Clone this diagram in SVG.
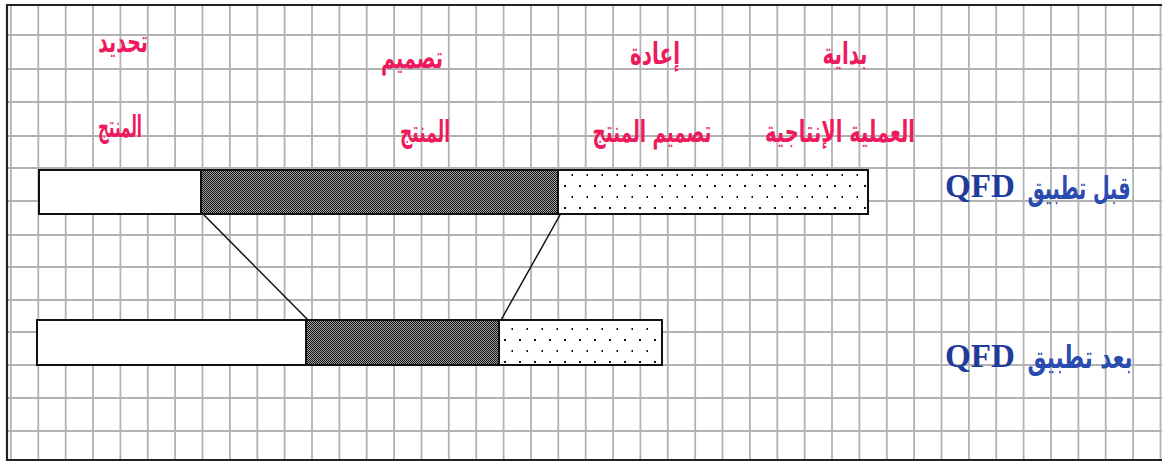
<svg xmlns="http://www.w3.org/2000/svg" width="1162" height="462" viewBox="0 0 1162 462">
<style>
.grid line{stroke:#b2b2b2;stroke-width:1.8}
.bar{stroke:#111;stroke-width:2}
.lbl{font-family:"DejaVu Sans",sans-serif;font-weight:bold;fill:#ee1a5e;text-anchor:middle;font-size:20px}
.qfd{font-family:"Liberation Serif",serif;font-weight:bold;fill:#1f3c9c;font-size:33px}
.ar{font-family:"DejaVu Sans",sans-serif;font-weight:bold;fill:#2a4bb0;text-anchor:middle;font-size:22px}
.conn line{stroke:#111;stroke-width:1.5}
</style>
<defs>
<pattern id="dark" width="2" height="2" patternUnits="userSpaceOnUse">
<rect width="2" height="2" fill="#a0a0a0"/>
<rect width="1" height="1" fill="#111"/>
<rect x="1" y="1" width="1" height="1" fill="#111"/>
</pattern>
<pattern id="dots" width="15" height="22" patternUnits="userSpaceOnUse" x="3" y="-1">
<rect width="15" height="22" fill="#fff"/>
<rect x="6" y="10" width="2" height="2" fill="#111"/>
<rect x="13.5" y="21" width="2" height="2" fill="#111"/>
<rect x="13.5" y="-1" width="2" height="2" fill="#111"/>
</pattern>
</defs>
<rect width="1162" height="462" fill="#fff"/>
<g class="grid">
<line x1="10.9" y1="5" x2="10.9" y2="460"/><line x1="38.3" y1="5" x2="38.3" y2="460"/><line x1="65.7" y1="5" x2="65.7" y2="460"/><line x1="93.0" y1="5" x2="93.0" y2="460"/><line x1="120.4" y1="5" x2="120.4" y2="460"/><line x1="147.8" y1="5" x2="147.8" y2="460"/><line x1="175.1" y1="5" x2="175.1" y2="460"/><line x1="202.5" y1="5" x2="202.5" y2="460"/><line x1="229.9" y1="5" x2="229.9" y2="460"/><line x1="257.3" y1="5" x2="257.3" y2="460"/><line x1="284.6" y1="5" x2="284.6" y2="460"/><line x1="312.0" y1="5" x2="312.0" y2="460"/><line x1="339.4" y1="5" x2="339.4" y2="460"/><line x1="366.7" y1="5" x2="366.7" y2="460"/><line x1="394.1" y1="5" x2="394.1" y2="460"/><line x1="421.5" y1="5" x2="421.5" y2="460"/><line x1="448.8" y1="5" x2="448.8" y2="460"/><line x1="476.2" y1="5" x2="476.2" y2="460"/><line x1="503.6" y1="5" x2="503.6" y2="460"/><line x1="531.0" y1="5" x2="531.0" y2="460"/><line x1="558.3" y1="5" x2="558.3" y2="460"/><line x1="585.7" y1="5" x2="585.7" y2="460"/><line x1="613.1" y1="5" x2="613.1" y2="460"/><line x1="640.4" y1="5" x2="640.4" y2="460"/><line x1="667.8" y1="5" x2="667.8" y2="460"/><line x1="695.2" y1="5" x2="695.2" y2="460"/><line x1="722.5" y1="5" x2="722.5" y2="460"/><line x1="749.9" y1="5" x2="749.9" y2="460"/><line x1="777.3" y1="5" x2="777.3" y2="460"/><line x1="804.7" y1="5" x2="804.7" y2="460"/><line x1="832.0" y1="5" x2="832.0" y2="460"/><line x1="859.4" y1="5" x2="859.4" y2="460"/><line x1="886.8" y1="5" x2="886.8" y2="460"/><line x1="914.1" y1="5" x2="914.1" y2="460"/><line x1="941.5" y1="5" x2="941.5" y2="460"/><line x1="968.9" y1="5" x2="968.9" y2="460"/><line x1="996.2" y1="5" x2="996.2" y2="460"/><line x1="1023.6" y1="5" x2="1023.6" y2="460"/><line x1="1051.0" y1="5" x2="1051.0" y2="460"/><line x1="1078.4" y1="5" x2="1078.4" y2="460"/><line x1="1105.7" y1="5" x2="1105.7" y2="460"/><line x1="1133.1" y1="5" x2="1133.1" y2="460"/><line x1="1160.5" y1="5" x2="1160.5" y2="460"/>
<line x1="7" y1="35" x2="1162" y2="35"/><line x1="7" y1="69" x2="1162" y2="69"/><line x1="7" y1="102" x2="1162" y2="102"/><line x1="7" y1="136" x2="1162" y2="136"/><line x1="7" y1="168" x2="1162" y2="168"/><line x1="7" y1="201" x2="1162" y2="201"/><line x1="7" y1="235" x2="1162" y2="235"/><line x1="7" y1="267" x2="1162" y2="267"/><line x1="7" y1="300" x2="1162" y2="300"/><line x1="7" y1="332" x2="1162" y2="332"/><line x1="7" y1="365" x2="1162" y2="365"/><line x1="7" y1="398" x2="1162" y2="398"/><line x1="7" y1="431" x2="1162" y2="431"/>
</g>
<path d="M1162 5 H7 V460 H1162" fill="none" stroke="#222" stroke-width="2.2"/>
<g id="labels">
<text class="lbl" transform="translate(123 52) scale(1 1.5)" textLength="50" lengthAdjust="spacingAndGlyphs">تحديد</text>
<text class="lbl" transform="translate(120 137) scale(1 1.5)" textLength="44" lengthAdjust="spacingAndGlyphs">المنتج</text>
<text class="lbl" transform="translate(412 68) scale(1 1.5)" textLength="62" lengthAdjust="spacingAndGlyphs">تصميم</text>
<text class="lbl" transform="translate(425 142) scale(1 1.5)" textLength="50" lengthAdjust="spacingAndGlyphs">المنتج</text>
<text class="lbl" transform="translate(655 64) scale(1 1.5)" textLength="50" lengthAdjust="spacingAndGlyphs">إعادة</text>
<text class="lbl" transform="translate(652 142) scale(1 1.5)" textLength="119" lengthAdjust="spacingAndGlyphs">تصميم المنتج</text>
<text class="lbl" transform="translate(845 64) scale(1 1.5)" textLength="45" lengthAdjust="spacingAndGlyphs">بداية</text>
<text class="lbl" transform="translate(840 142) scale(1 1.5)" textLength="150" lengthAdjust="spacingAndGlyphs">العملية الإنتاجية</text>
</g>
<g id="bar-before">
<rect class="bar" x="39" y="170" width="162" height="44" fill="#fff"/>
<rect class="bar" x="201" y="170" width="357" height="44" fill="url(#dark)"/>
<rect class="bar" x="558" y="170" width="310" height="44" fill="url(#dots)"/>
</g>
<g id="bar-after">
<rect class="bar" x="37" y="320" width="269" height="45" fill="#fff"/>
<rect class="bar" x="306" y="320" width="193" height="45" fill="url(#dark)" stroke-width="3"/>
<rect class="bar" x="499" y="320" width="163" height="45" fill="url(#dots)"/>
</g>
<g class="conn" id="connectors">
<line x1="204" y1="215" x2="308" y2="320"/>
<line x1="560" y1="215" x2="501" y2="320"/>
</g>
<g id="label-before">
<text class="qfd" x="945" y="197" textLength="70" lengthAdjust="spacingAndGlyphs">QFD</text>
<text class="ar" transform="translate(1079 199) scale(1 1.45)" textLength="103" lengthAdjust="spacingAndGlyphs">قبل تطبيق</text>
</g>
<g id="label-after">
<text class="qfd" x="945" y="367" textLength="70" lengthAdjust="spacingAndGlyphs">QFD</text>
<text class="ar" transform="translate(1080 368) scale(1 1.45)" textLength="105" lengthAdjust="spacingAndGlyphs">بعد تطبيق</text>
</g>
</svg>
